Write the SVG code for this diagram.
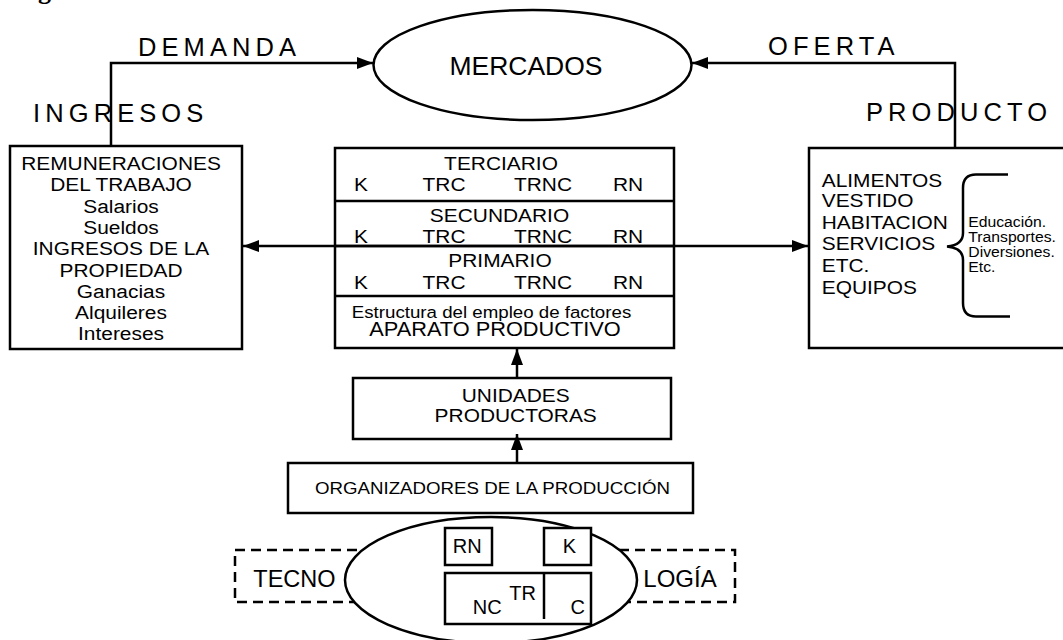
<svg xmlns="http://www.w3.org/2000/svg" width="1063" height="640" viewBox="0 0 1063 640">
<style>
text{font-family:"Liberation Sans",Arial,Helvetica,sans-serif;fill:#000;}
.box{fill:#fff;stroke:#000;stroke-width:2.5;}
.ln{fill:none;stroke:#000;stroke-width:2.5;}
.c{text-anchor:middle;}
.s19{font-size:19px;}
.s17{font-size:17px;}
.sp{font-size:25.5px;letter-spacing:5.1px;}
.dash{fill:none;stroke:#000;stroke-width:2.5;stroke-dasharray:10 6;}
</style>
<defs>
<marker id="arr" viewBox="0 0 16 12" refX="16" refY="6" markerWidth="16" markerHeight="12" markerUnits="userSpaceOnUse" orient="auto-start-reverse">
<path d="M0,0 L16,6 L0,12 z" fill="#000"/>
</marker>
</defs>
<rect width="1063" height="640" fill="#fff"/>
<text x="38" y="-1.5" style="font-family:'Liberation Serif',serif;font-weight:bold;font-size:26px">g</text>

<g id="mercados">
<ellipse cx="532.5" cy="65" rx="159" ry="55" class="box"/>
<text x="526" y="75" class="c" style="font-size:26.5px">MERCADOS</text>
</g>

<g id="labels">
<text x="138" y="56" class="sp">DEMANDA</text>
<text x="33" y="121.7" class="sp">INGRESOS</text>
<text x="768" y="55" class="sp">OFERTA</text>
<text x="866" y="120.7" class="sp">PRODUCTO</text>
</g>

<g id="ingresos">
<rect x="10" y="146" width="232" height="203" class="box"/>
<g transform="translate(121,0) scale(1.1,1)" class="s19">
<text x="0" y="170" class="c">REMUNERACIONES</text>
<text x="0" y="191" class="c">DEL TRABAJO</text>
<text x="0" y="212.7" class="c">Salarios</text>
<text x="0" y="233.7" class="c">Sueldos</text>
<text x="0" y="255.3" class="c">INGRESOS DE LA</text>
<text x="0" y="276.7" class="c">PROPIEDAD</text>
<text x="0" y="298" class="c">Ganacias</text>
<text x="0" y="319" class="c">Alquileres</text>
<text x="0" y="340" class="c">Intereses</text>
</g>
</g>

<g id="aparato">
<rect x="335" y="148" width="339" height="200" class="box"/>
<line x1="335" y1="201" x2="674" y2="201" class="ln"/>
<line x1="335" y1="246" x2="674" y2="246" class="ln"/>
<line x1="335" y1="296" x2="674" y2="296" class="ln"/>
<g class="s19">
<text transform="translate(501,170) scale(1.1,1)" class="c">TERCIARIO</text>
<text transform="translate(361,190.7) scale(1.1,1)" class="c">K</text>
<text transform="translate(444,190.7) scale(1.1,1)" class="c">TRC</text>
<text transform="translate(543,190.7) scale(1.1,1)" class="c">TRNC</text>
<text transform="translate(628,190.7) scale(1.1,1)" class="c">RN</text>
<text transform="translate(499.5,221.7) scale(1.1,1)" class="c">SECUNDARIO</text>
<text transform="translate(361,242.7) scale(1.1,1)" class="c">K</text>
<text transform="translate(444,242.7) scale(1.1,1)" class="c">TRC</text>
<text transform="translate(543,242.7) scale(1.1,1)" class="c">TRNC</text>
<text transform="translate(628,242.7) scale(1.1,1)" class="c">RN</text>
<text transform="translate(500,267.3) scale(1.1,1)" class="c">PRIMARIO</text>
<text transform="translate(361,289) scale(1.1,1)" class="c">K</text>
<text transform="translate(444,289) scale(1.1,1)" class="c">TRC</text>
<text transform="translate(543,289) scale(1.1,1)" class="c">TRNC</text>
<text transform="translate(628,289) scale(1.1,1)" class="c">RN</text>
</g>
<text transform="translate(491.5,318.3) scale(1.1,1)" class="c s17">Estructura del empleo de factores</text>
<text transform="translate(495,336) scale(1.1,1)" class="c" style="font-size:19.8px">APARATO PRODUCTIVO</text>
</g>

<g id="producto">
<rect x="809" y="148" width="270" height="200" class="box"/>
<g transform="translate(821.7,0) scale(1.1,1)" class="s19">
<text x="0" y="187">ALIMENTOS</text>
<text x="0" y="207.5">VESTIDO</text>
<text x="0" y="229.3">HABITACION</text>
<text x="0" y="250.5">SERVICIOS</text>
<text x="0" y="272.3">ETC.</text>
<text x="0" y="294">EQUIPOS</text>
</g>
<path d="M1008,174.5 H976 Q963,174.5 963,188 V233 Q963,245 947,246.5 Q963,248 963,260 V303 Q963,316.5 976,316.5 H1010" class="ln"/>
<g transform="translate(968.3,0) scale(1.1,1)" style="font-size:14.3px">
<text x="0" y="226.7">Educación.</text>
<text x="0" y="241.7">Transportes.</text>
<text x="0" y="256.7">Diversiones.</text>
<text x="0" y="272.5">Etc.</text>
</g>
</g>

<g id="unidades">
<rect x="353" y="378" width="318" height="61" class="box"/>
<g transform="translate(515.7,0) scale(1.1,1)" class="s19">
<text x="0" y="401.7" class="c">UNIDADES</text>
<text x="0" y="421.7" class="c">PRODUCTORAS</text>
</g>
</g>

<g id="organizadores">
<rect x="288" y="463" width="405" height="50" class="box"/>
<text transform="translate(492.5,494.3) scale(1.1,1)" class="c s17">ORGANIZADORES DE LA PRODUCCIÓN</text>
</g>

<g id="tecnologia">
<rect x="235" y="550" width="500" height="52" class="dash"/>
<text x="253.3" y="587.3" style="font-size:23.5px">TECNO</text>
<text x="643.3" y="587.3" style="font-size:24px">LOGÍA</text>
<ellipse cx="491" cy="580" rx="146" ry="63" class="box"/>
<rect x="445" y="528" width="47" height="37" class="box"/>
<text x="467.2" y="552.7" class="c" style="font-size:20px">RN</text>
<rect x="544" y="528" width="47" height="37" class="box"/>
<text x="569.3" y="552.7" class="c" style="font-size:20px">K</text>
<rect x="445" y="573" width="146" height="51" class="box"/>
<line x1="544" y1="573" x2="544" y2="619" class="ln"/>
<text x="522.7" y="600" class="c" style="font-size:20px">TR</text>
<text x="487.2" y="614" class="c" style="font-size:20px">NC</text>
<text x="577.8" y="614" class="c" style="font-size:20px">C</text>
</g>

<g id="connectors">
<path d="M111,146 V63 H373" class="ln" marker-end="url(#arr)"/>
<path d="M955,148 V63 H692" class="ln" marker-end="url(#arr)"/>
<line x1="243" y1="246" x2="808" y2="246" class="ln" marker-start="url(#arr)" marker-end="url(#arr)"/>
<line x1="517" y1="378" x2="517" y2="349" class="ln" marker-end="url(#arr)"/>
<line x1="517" y1="463" x2="517" y2="434" class="ln" marker-end="url(#arr)"/>
</g>
</svg>
